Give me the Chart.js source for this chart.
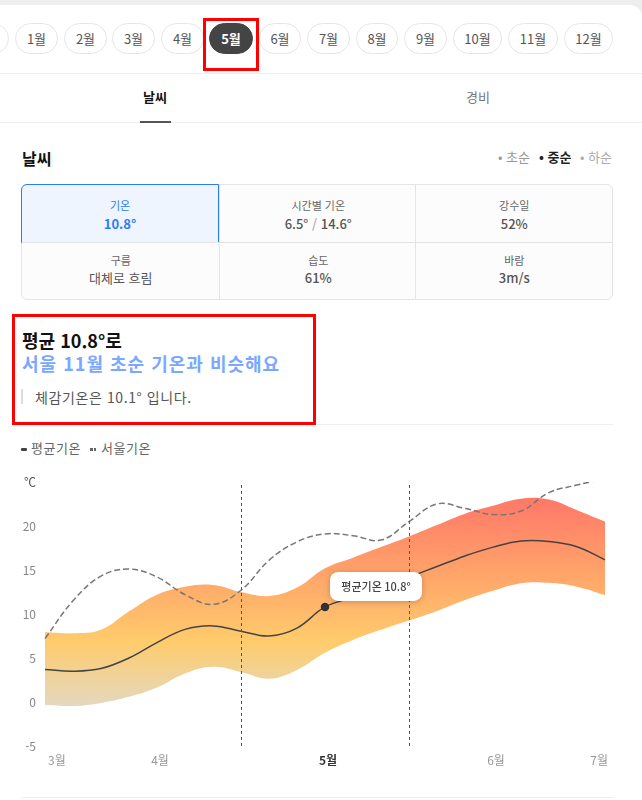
<!DOCTYPE html>
<html lang="ko">
<head>
<meta charset="utf-8">
<title>날씨</title>
<script src="https://cdn.jsdelivr.net/npm/chart.js@4"></script>
<style>
  * { box-sizing: border-box; }
  html, body { margin: 0; padding: 0; background: #fff; }
  body { width: 642px; height: 800px; position: relative; overflow: hidden; font-family: "Noto Sans CJK KR", "Noto Sans", sans-serif; color: #333; }
  .abs { position: absolute; white-space: nowrap; }
  .top-strip { left: 0; top: 0; width: 642px; height: 5px; background: #eee; }
  .corner { left: 630px; top: 5px; width: 12px; height: 12px; background: #fff; border-top-right-radius: 12px; box-shadow: 4px -4px 0 4px #eee; }
  .pill { top: 23px; height: 31px; border: 1px solid #e6e6e6; border-radius: 16px; font-size: 13px; line-height: 29px; text-align: center; color: #555; background: #fff; }
  .pill.on { background: #444; border-color: #444; color: #fff; font-weight: 700; }
  .redbox { border: 3px solid #f00; }
  .hr { height: 1px; background: #eee; }
  .tab { top: 88px; font-size: 13px; line-height: 18px; width: 60px; text-align: center; color: #777; }
  .tab.on { color: #111; font-weight: 700; }
  .grid { left: 21px; top: 184px; width: 592px; height: 116px; border: 1px solid #e4e4e4; border-radius: 6px; background: #fcfcfc; }
  .cell { position: absolute; width: 197.5px; height: 58px; text-align: center; }
  .cell .k { position: absolute; left: 0; right: 0; font-size: 11px; line-height: 14px; top: 12px; color: #666; }
  .cell .v { position: absolute; left: 0; right: 0; font-size: 13px; line-height: 18px; top: 29px; color: #555; font-weight: 500; }
  .cell.low .k { top: 10px; }
  .cell.low .v { top: 26px; }
  .cell.on { background: #eef5ff; border: 1px solid #2b7cf6; border-top-left-radius: 6px; }
  .cell.on .k, .cell.on .v { color: #2b7cf6; }
  canvas { position: absolute; left: 0; top: 470px; }
</style>
</head>
<body>
<div class="abs top-strip"></div>
<div class="abs corner"></div>

<div class="abs pill" style="left:-34px;width:43px"></div>
<div class="abs pill" style="left:15px;width:43px">1월</div>
<div class="abs pill" style="left:64px;width:43px">2월</div>
<div class="abs pill" style="left:112px;width:43px">3월</div>
<div class="abs pill" style="left:161px;width:43px">4월</div>
<div class="abs pill on" style="left:209px;width:44px">5월</div>
<div class="abs pill" style="left:259px;width:42px">6월</div>
<div class="abs pill" style="left:307px;width:43px">7월</div>
<div class="abs pill" style="left:356px;width:42px">8월</div>
<div class="abs pill" style="left:404px;width:43px">9월</div>
<div class="abs pill" style="left:453px;width:49px">10월</div>
<div class="abs pill" style="left:508px;width:50px">11월</div>
<div class="abs pill" style="left:564px;width:49px">12월</div>
<div class="abs redbox" style="left:203px;top:18px;width:56px;height:53px"></div>

<div class="abs hr" style="left:0;top:73px;width:642px"></div>
<div class="abs tab on" style="left:125px">날씨</div>
<div class="abs tab" style="left:448px">경비</div>
<div class="abs hr" style="left:0;top:122px;width:642px"></div>
<div class="abs" style="left:140px;top:121px;width:31px;height:2px;background:#555"></div>

<div class="abs" style="left:22px;top:147px;font-size:16px;line-height:22px;font-weight:700;color:#111">날씨</div>
<div class="abs" style="left:498px;top:148px;font-size:13px;line-height:18px;color:#999">• 초순</div>
<div class="abs" style="left:539px;top:148px;font-size:13px;line-height:18px;color:#222;font-weight:700">• 중순</div>
<div class="abs" style="left:580px;top:148px;font-size:13px;line-height:18px;color:#aaa">• 하순</div>

<div class="abs grid">
  <div class="cell on" style="left:-1px;top:-1px;width:198px;height:59px"><div class="k" style="top:13px">기온</div><div class="v" style="font-weight:700;top:30px">10.8°</div></div>
  <div class="cell" style="left:197px;top:0;border-left:1px solid #e4e4e4"><div class="k" style="top:13px">시간별 기온</div><div class="v" style="top:30px">6.5° <span style="color:#aaa">/</span> 14.6°</div></div>
  <div class="cell" style="left:393px;top:0;border-left:1px solid #e4e4e4"><div class="k" style="top:13px">강수일</div><div class="v" style="top:30px">52%</div></div>
  <div class="cell low" style="left:0;top:57px;border-top:1px solid #e4e4e4"><div class="k">구름</div><div class="v" style="font-weight:400">대체로 흐림</div></div>
  <div class="cell low" style="left:197px;top:57px;border-top:1px solid #e4e4e4;border-left:1px solid #e4e4e4"><div class="k">습도</div><div class="v">61%</div></div>
  <div class="cell low" style="left:393px;top:57px;border-top:1px solid #e4e4e4;border-left:1px solid #e4e4e4"><div class="k">바람</div><div class="v">3m/s</div></div>
</div>

<div class="abs redbox" style="left:12px;top:314px;width:304px;height:111px"></div>
<div class="abs" style="left:22px;top:328px;font-size:18px;line-height:24px;font-weight:700;color:#111">평균 10.8°로</div>
<div class="abs" style="left:22px;top:351px;font-size:18px;line-height:24px;font-weight:700;color:#7aa7ff;letter-spacing:1px">서울 11월 초순 기온과 비슷해요</div>
<div class="abs" style="left:21px;top:389px;width:2px;height:15px;background:#ddd"></div>
<div class="abs" style="left:35px;top:387px;font-size:14px;line-height:20px;color:#555;letter-spacing:0.6px">체감기온은 10.1° 입니다.</div>
<div class="abs hr" style="left:316px;top:424px;width:297px"></div>

<div class="abs" style="left:21px;top:448px;width:6px;height:3px;background:#444;border-radius:1px"></div>
<div class="abs" style="left:31px;top:439px;font-size:13px;line-height:18px;color:#666;letter-spacing:0.5px">평균기온</div>
<div class="abs" style="left:90px;top:448px;width:2.5px;height:3px;background:#666"></div>
<div class="abs" style="left:93.5px;top:448px;width:2.5px;height:3px;background:#666"></div>
<div class="abs" style="left:101px;top:439px;font-size:13px;line-height:18px;color:#666;letter-spacing:0.5px">서울기온</div>

<canvas id="tempChart" width="642" height="306"></canvas>
<div class="abs hr" style="left:21px;top:797px;width:592px"></div>

<script>
// one point every 5 days or so
const categories = ['3월','','','','4월','','','','','','5월','','','','','','6월','','','','7월'];
const highTemps = [7.95,7.8,8.2,10.3,12.2,13.1,13.3,12.5,12.05,13.0,15.2,16.4,17.6,18.8,20.1,21.4,22.3,23.1,23.0,21.8,20.5];
const lowTemps = [-0.35,-0.45,-0.1,0.6,1.65,3.25,4.0,3.4,2.65,3.65,5.6,7.05,8.2,9.25,10.35,11.6,12.65,13.5,13.55,13.1,12.15];
const avgTemps = [3.7,3.5,3.8,5.0,6.75,8.25,8.65,8.05,7.5,8.4,10.8,11.9,13.1,14.2,15.4,16.6,17.6,18.3,18.25,17.65,16.15];
const seoulTemps = [7.2,11.5,14.3,15.1,14.2,12.2,11.1,12.7,16.1,18.2,19.1,18.9,18.4,20.5,22.5,22.0,21.3,21.7,23.8,24.65,25.4];
const selectedIndex = 10;
const periodEdges = [7, 13];

function bandGradient(ctx) {
  const chart = ctx.chart;
  if (!chart.chartArea) return '#ffcc6c';
  const y = chart.scales.y;
  const g = chart.ctx.createLinearGradient(0, y.getPixelForValue(23.1), 0, y.getPixelForValue(-0.5));
  g.addColorStop(0, '#ff7868');
  g.addColorStop(0.69, '#ffcc6c');
  g.addColorStop(1, '#e3d8c0');
  return g;
}

const markerPlugin = {
  id: 'markerPlugin',
  afterDatasetsDraw(chart) {
    const c = chart.ctx;
    const x = chart.scales.x;
    const y = chart.scales.y;

    // dashed lines around the selected period
    c.save();
    c.strokeStyle = '#555';
    c.lineWidth = 1;
    c.setLineDash([3, 3]);
    periodEdges.forEach(i => {
      const px = Math.round(x.getPixelForValue(i)) + 0.5;
      c.beginPath();
      c.moveTo(px, y.top + 3);
      c.lineTo(px, y.bottom + 1);
      c.stroke();
    });
    c.restore();

    // label box next to the selected point
    const px = x.getPixelForValue(selectedIndex);
    const py = y.getPixelForValue(avgTemps[selectedIndex]);
    const bx = px + 5, by = py - 35, bw = 92, bh = 29;
    c.save();
    c.shadowColor = 'rgba(0,0,0,0.22)';
    c.shadowBlur = 6;
    c.shadowOffsetY = 1;
    c.fillStyle = '#fff';
    c.beginPath();
    c.roundRect(bx, by, bw, bh, 8);
    c.fill();
    c.restore();
    c.save();
    c.fillStyle = '#444';
    c.font = '500 11px "Noto Sans CJK KR"';
    c.textAlign = 'center';
    c.textBaseline = 'middle';
    c.fillText('평균기온 ' + avgTemps[selectedIndex] + '°', bx + bw / 2, by + bh / 2);
    c.restore();
  }
};

new Chart(document.getElementById('tempChart'), {
  type: 'line',
  data: {
    labels: categories,
    datasets: [
      { label: '서울기온', data: seoulTemps, borderColor: '#777', borderWidth: 1.5, borderDash: [6, 3], pointRadius: 0, tension: 0.4, fill: false },
      { label: '평균기온', data: avgTemps, borderColor: '#444', borderWidth: 1.5, tension: 0.4, fill: false,
        pointRadius: ctx => ctx.dataIndex === selectedIndex ? 3.5 : 0,
        pointBackgroundColor: '#333', pointBorderColor: '#333' },
      { label: '최고', data: highTemps, borderWidth: 0, borderColor: 'transparent', pointRadius: 0, tension: 0.4, fill: '+1', backgroundColor: bandGradient },
      { label: '최저', data: lowTemps, borderWidth: 0, borderColor: 'transparent', pointRadius: 0, tension: 0.4, fill: false }
    ]
  },
  options: {
    responsive: false,
    animation: false,
    events: [],
    layout: { padding: { top: 12, right: 37, left: 0, bottom: 0 } },
    plugins: { legend: { display: false }, tooltip: { enabled: false } },
    scales: {
      x: {
        grid: { display: false, drawTicks: false },
        border: { display: false },
        afterFit: s => { s.height = 30; },
        ticks: {
          autoSkip: false,
          maxRotation: 0,
          align: 'inner',
          labelOffset: 3,
          padding: 7,
          color: ctx => ctx.index === selectedIndex ? '#333' : '#999',
          font: ctx => ({ family: '"Noto Sans CJK KR"', size: 12, weight: ctx.index === selectedIndex ? '700' : '400' })
        }
      },
      y: {
        min: -5,
        max: 25,
        grid: { display: false, drawTicks: false },
        border: { display: false },
        afterFit: s => { s.width = 45; s.paddingTop = 0; s.paddingBottom = 0; },
        ticks: {
          stepSize: 5,
          padding: 9,
          color: ctx => ctx.tick && ctx.tick.value === 25 ? '#555' : '#888',
          font: { family: '"Noto Sans CJK KR"', size: 12 },
          callback: v => v === 25 ? '℃' : v
        }
      }
    }
  },
  plugins: [markerPlugin]
});
</script>
</body>
</html>
